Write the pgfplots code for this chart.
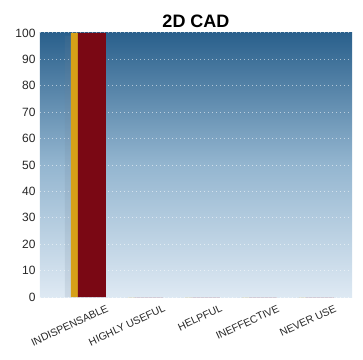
\documentclass[border=0pt]{standalone}
\usepackage{fontspec}
\setmainfont{Liberation Sans}
\usepackage{pgfplots}
\pgfplotsset{compat=1.18}
\definecolor{bgtop}{RGB}{42,96,140}
\definecolor{bgmid}{RGB}{148,182,208}
\definecolor{bgbot}{RGB}{222,233,243}
\definecolor{barshadow}{RGB}{110,130,150}
\definecolor{barorange}{RGB}{214,160,24}
\definecolor{barred}{RGB}{122,8,20}
\begin{document}
\begin{tikzpicture}
\begin{axis}[
  name=ax,
  scale only axis,
  width=312pt, height=264pt,
  xmin=-1.123, xmax=4.351,
  ymin=0, ymax=100,
  axis line style={draw=none},
  axis background/.style={top color=bgtop, bottom color=bgbot, middle color=bgmid},
  ytick={0,10,...,100},
  xtick={0,1,2,3,4},
  xticklabels={INDISPENSABLE,HIGHLY USEFUL,HELPFUL,INEFFECTIVE,NEVER USE},
  major tick length=0pt,
  ymajorgrids,
  major grid style={white, line width=1pt, opacity=0.55, dash pattern=on 1pt off 3pt},
  yticklabel style={font=\fontsize{12}{12}\selectfont, text=black!85, xshift=-1pt},
  xticklabel style={font=\fontsize{10.5}{10.5}\selectfont, rotate=25, anchor=north east, text=black!85, yshift=-4pt, xshift=2pt},
  /pgf/number format/assume math mode=true,
  title={\fontsize{18}{18}\selectfont\bfseries 2D CAD},
  title style={yshift=-4pt},
  clip=false,
]
\addplot[ybar, bar width=0.105, bar shift=-0.632, fill=barshadow, fill opacity=0.15, draw=none] coordinates {(0,99) (1,0) (2,0) (3,0) (4,0)};
\addplot[ybar, bar width=0.123, bar shift=-0.518, fill=barorange, draw=none] coordinates {(0,100) (1,0) (2,0) (3,0) (4,0)};
\addplot[ybar, bar width=0.491, bar shift=-0.211, fill=barred, draw=none] coordinates {(0,100) (1,0) (2,0) (3,0) (4,0)};
\end{axis}
\path (ax.south west) ++(-40pt,-62pt) rectangle ([shift={(11pt,33pt)}]ax.north east);
\end{tikzpicture}
\end{document}
